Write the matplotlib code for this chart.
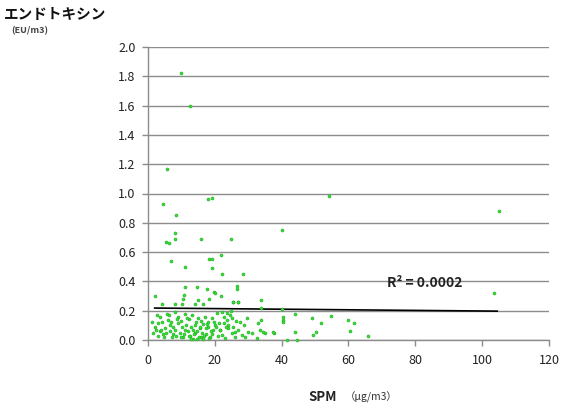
import matplotlib
matplotlib.use("Agg")
import matplotlib.pyplot as plt

plt.rcParams['font.family'] = ['Noto Sans CJK JP', 'DejaVu Sans']

# --- data ---
spm_high = [9.9, 12.6, 5.7, 4.4, 54.3, 104.9, 18.0, 19.1, 8.4, 40.0,
            5.4, 6.4, 8.2, 8.2, 15.8, 24.8, 7.0, 11.0, 18.3, 19.1, 21.9,
            19.1, 22.1, 28.5, 26.7, 26.5, 11.0, 14.8, 17.8, 19.8, 20.1,
            2.0, 10.7, 10.6, 21.9, 18.4, 33.8, 26.9, 25.3, 4.2, 8.2, 10.2,
            14.0, 16.4, 103.5, 15.1, 25.5, 27.0]
endo_high = [1.82, 1.60, 1.17, 0.93, 0.98, 0.88, 0.96, 0.97, 0.85, 0.75,
             0.67, 0.66, 0.73, 0.69, 0.69, 0.69, 0.54, 0.50, 0.55, 0.555, 0.58,
             0.49, 0.45, 0.45, 0.37, 0.35, 0.36, 0.36, 0.35, 0.33, 0.32,
             0.30, 0.31, 0.28, 0.30, 0.28, 0.27, 0.26, 0.26, 0.245, 0.245, 0.245,
             0.245, 0.245, 0.32, 0.27, 0.26, 0.26]

spm_mid = [33.7, 33.8, 40.2, 40.3, 40.5, 44.0, 44.0, 49.2, 51.8, 54.8,
           59.8, 61.5, 60.5, 65.8, 49.5, 50.2, 37.8, 35.0, 34.5, 33.5,
           41.5, 44.5, 33.0, 32.5, 37.5, 40.5]
endo_mid = [0.22, 0.137, 0.21, 0.135, 0.12, 0.18, 0.057, 0.148, 0.118, 0.164,
            0.137, 0.118, 0.063, 0.027, 0.034, 0.057, 0.05, 0.05, 0.057, 0.068,
            0.0, 0.0, 0.114, 0.011, 0.057, 0.16]

spm_low = [20.6, 22.1, 23.6, 24.5, 25.0, 23.6, 22.6, 24.0, 25.5, 26.0,
           25.0, 27.0, 27.5, 29.5, 30.0, 28.0, 26.0, 21.6, 21.1, 22.1, 23.1,
           5.6, 8.1, 9.1, 11.1, 3.6, 4.1, 3.1, 13.1, 15.1, 17.1, 19.1,
           6.1, 6.6, 7.6, 9.1, 10.1, 11.1,
           1.5, 2.0, 2.5, 3.0, 3.5, 4.5, 5.0, 5.5, 6.5, 7.0, 7.5, 8.0,
           8.5, 9.5, 10.0, 10.5, 11.5, 12.0, 12.5, 13.0, 13.5, 14.0, 14.5,
           15.5, 16.0, 16.5, 17.5, 18.0, 18.5, 19.5, 20.0, 12.2, 13.8,
           14.6, 15.8, 16.8, 17.3, 18.8, 19.7, 12.8, 14.2, 15.2, 16.2,
           17.6, 11.6, 10.8, 9.8, 8.8, 7.2, 6.2, 4.8, 3.8, 2.6, 1.2,
           13.4, 15.6, 17.9, 19.3, 20.4, 21.4, 22.8, 23.8, 24.8, 26.4,
           28.6, 29.0, 31.0, 12.4, 14.8, 16.6, 18.2, 20.8, 23.4]
endo_low = [0.182, 0.193, 0.182, 0.171, 0.148, 0.137, 0.114, 0.102, 0.091, 0.057,
            0.046, 0.068, 0.125, 0.148, 0.057, 0.034, 0.023, 0.068, 0.114, 0.034, 0.011,
            0.18, 0.19, 0.16, 0.18, 0.155, 0.125, 0.113, 0.17, 0.148, 0.16, 0.148,
            0.137, 0.102, 0.091, 0.114, 0.091, 0.068,
            0.05, 0.09, 0.07, 0.03, 0.06, 0.04, 0.08, 0.05, 0.06, 0.12, 0.04, 0.07,
            0.03, 0.05, 0.13, 0.02, 0.10, 0.06, 0.03, 0.09, 0.01, 0.05, 0.12,
            0.08, 0.02, 0.11, 0.04, 0.09, 0.02, 0.07, 0.10, 0.14, 0.04,
            0.06, 0.13, 0.03, 0.08, 0.06, 0.12, 0.01, 0.10, 0.02, 0.05,
            0.11, 0.15, 0.04, 0.02, 0.14, 0.02, 0.17, 0.02, 0.07, 0.17, 0.12,
            0.07, 0.09, 0.12, 0.04, 0.09, 0.07, 0.16, 0.08, 0.20, 0.13,
            0.10, 0.02, 0.05, 0.03, 0.01, 0.01, 0.015, 0.03, 0.09]

trend_x = [2, 104.5]
trend_y = [0.218, 0.197]

x_ticks = [0, 20, 40, 60, 80, 100, 120]
y_ticks = [0.0, 0.2, 0.4, 0.6, 0.8, 1.0, 1.2, 1.4, 1.6, 1.8, 2.0]

spm = spm_high + spm_mid + spm_low
endo = endo_high + endo_mid + endo_low

fig = plt.figure(figsize=(5.70, 4.09), dpi=100)
ax = fig.add_axes([148/570, (409-340)/409, (549-148)/570, (340-47)/409])

ax.set_xlim(0, 120)
ax.set_ylim(0, 2.0)
ax.set_xticks(x_ticks)
ax.set_yticks(y_ticks)
ax.set_yticklabels([f"{v:.1f}" for v in y_ticks])
ax.yaxis.grid(True, color='#8c8c8c', linewidth=1.0)
ax.set_axisbelow(True)

for s in ['top', 'right']:
    ax.spines[s].set_visible(False)
for s in ['left', 'bottom']:
    ax.spines[s].set_color('#8c8c8c')
    ax.spines[s].set_linewidth(1.0)
ax.tick_params(axis='both', colors='#8c8c8c', labelcolor='#222222',
               labelsize=9, length=4, width=1)
ax.tick_params(axis='x', pad=6)
ax.tick_params(axis='y', pad=5)

ax.plot(trend_x, trend_y, color='black', linewidth=1.2, zorder=2)
ax.scatter(spm, endo, s=5, color='#33e033', edgecolors='#1a9a1a',
           linewidths=0.3, zorder=3, clip_on=False)

ax.text(71.5, 0.39, "R² = 0.0002", fontsize=10, fontweight='bold',
        color='#222222', ha='left', va='center')

fig.text(4/570, 1 - 14/409, "エンドトキシン", fontsize=10.5, fontweight='bold',
         ha='left', va='center', color='#111111')
fig.text(11/570, 1 - 31/409, "(EU/m3)", fontsize=6.5, fontweight='bold',
         ha='left', va='center', color='#444444')
fig.text(308/570, 1 - 397/409, "SPM", fontsize=9.5, fontweight='bold',
         ha='left', va='center', color='#222222')
fig.text(345/570, 1 - 397/409, "（μg/m3）", fontsize=7.5,
         ha='left', va='center', color='#333333')

fig.savefig("out.png", dpi=100)
